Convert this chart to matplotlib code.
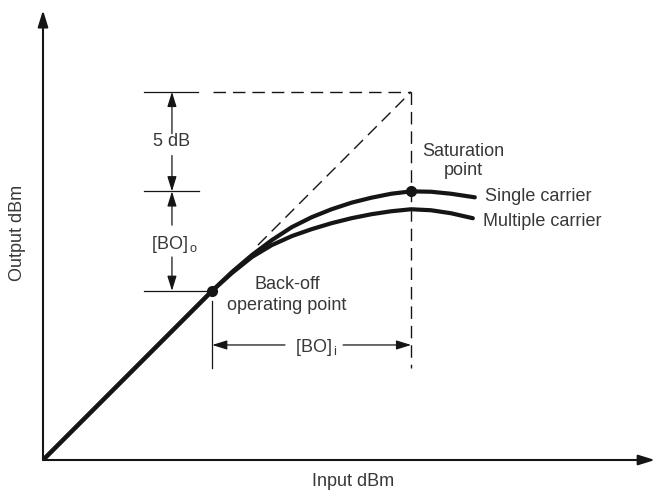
import matplotlib.pyplot as plt

plt.rcParams['font.family'] = ['Liberation Sans', 'DejaVu Sans']
plt.rcParams['mathtext.fontset'] = 'custom'
plt.rcParams['mathtext.rm'] = 'Liberation Sans'

# transfer curves, input vs output level in dB (relative scale)
input_single = [0, 8.5, 9.5, 10.5, 11.5, 12.5, 13.5, 14.5, 15.5, 16.5, 17.5, 18.5, 19.5, 20.5, 21.7]
output_single = [0, 8.5, 9.45, 10.3, 11.05, 11.7, 12.2, 12.6, 12.93, 13.18, 13.38, 13.5, 13.48, 13.38, 13.2]
input_multi = [0, 8.5, 9.5, 10.5, 11.5, 12.5, 13.5, 14.5, 15.5, 16.5, 17.5, 18.5, 19.5, 20.5, 21.6]
output_multi = [0, 8.5, 9.4, 10.2, 10.8, 11.25, 11.6, 11.9, 12.15, 12.35, 12.5, 12.6, 12.55, 12.4, 12.15]

# key points
sat_in, sat_out = 18.5, 13.5
backoff_in, backoff_out = 8.5, 8.5
linear_start = 10.8  # where the dashed linear extension begins

INK = '#151515'
TXT = '#383838'

fig = plt.figure(figsize=(6.6, 4.92), dpi=100)
ax = fig.add_axes([43 / 660, 32 / 492, 617 / 660, 460 / 492])
ax.set_xlim(0, 617 / 19.9)
ax.set_ylim(0, 460 / 19.9)
ax.axis('off')


def arrow(x0, y0, x1, y1, lw=0.9, scale=10, hl=0.9, hw=0.28):
    ax.annotate('', xy=(x1, y1), xytext=(x0, y0), annotation_clip=False,
                arrowprops=dict(arrowstyle=f'-|>,head_length={hl},head_width={hw}',
                                color=INK, lw=lw, mutation_scale=scale,
                                shrinkA=0, shrinkB=0))


# axes with arrow heads
arrow(0, 0, 30.75, 0, lw=1.5, scale=11)
arrow(0, 0, 0, 22.6, lw=1.5, scale=11)

# ideal linear response and saturation guides
dash = (0, (9, 5))
ax.plot([linear_start, sat_in], [linear_start, sat_in], color=INK, lw=1.0, ls=dash)
ax.plot([backoff_in + 0.05, sat_in], [sat_in, sat_in], color=INK, lw=1.0, ls=dash)
ax.plot([sat_in, sat_in], [sat_in, 4.62], color=INK, lw=1.0, ls=dash)

# amplifier curves
ax.plot(input_single, output_single, color=INK, lw=3.0, solid_capstyle='round', solid_joinstyle='round')
ax.plot(input_multi, output_multi, color=INK, lw=3.0, solid_capstyle='round', solid_joinstyle='round')
ax.plot([sat_in, backoff_in], [sat_out, backoff_out], 'o', color=INK, ms=7)

# output back-off dimension
ax.plot([5.1, 7.8], [sat_in, sat_in], color=INK, lw=0.9)
ax.plot([5.1, 7.85], [sat_out, sat_out], color=INK, lw=0.9)
ax.plot([5.1, backoff_in - 0.1], [backoff_out, backoff_out], color=INK, lw=0.9)
arrow(6.48, 16.4, 6.48, sat_in)
arrow(6.48, 15.3, 6.48, sat_out)
arrow(6.48, 11.8, 6.48, sat_out)
arrow(6.48, 10.2, 6.48, backoff_out)
ax.text(6.48, 16.0, '5 dB', ha='center', va='center', fontsize=13, color=TXT)
ax.text(5.45, 11.0, r'[BO]$_{\,\mathrm{o}}$', ha='left', va='center_baseline', fontsize=13, color=TXT)

# input back-off dimension
ax.plot([backoff_in, backoff_in], [8.0, 4.62], color=INK, lw=0.9)
arrow(12.16, 5.78, backoff_in, 5.78)
arrow(15.08, 5.78, sat_in, 5.78)
ax.text(12.66, 5.78, r'[BO]$_{\,\mathrm{i}}$', ha='left', va='center_baseline', fontsize=13, color=TXT)

# labels
ax.text(21.1, 15.03, 'Saturation\npoint', ha='center', va='center', fontsize=13,
        color=TXT, linespacing=1.2)
ax.text(12.26, 8.29, 'Back-off\noperating point', ha='center', va='center', fontsize=13,
        color=TXT, linespacing=1.3)
ax.text(22.2, 13.22, 'Single carrier', ha='left', va='center', fontsize=13, color=TXT)
ax.text(22.1, 11.96, 'Multiple carrier', ha='left', va='center', fontsize=13, color=TXT)

ax.text(-1.26, 11.4, 'Output dBm', rotation=90, ha='center', va='center', fontsize=13, color=TXT)
ax.text(15.58, -1.1, 'Input dBm', ha='center', va='center', fontsize=13, color=TXT)

fig.savefig('out.png', dpi=100)
